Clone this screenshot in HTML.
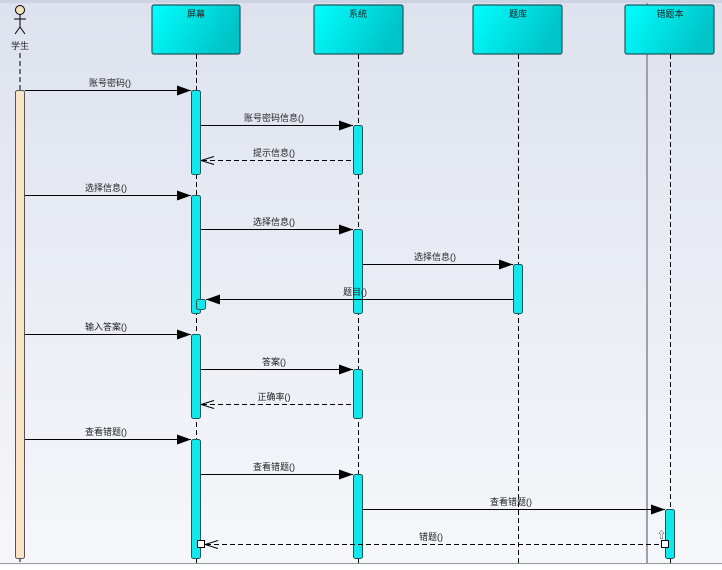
<!DOCTYPE html>
<html><head><meta charset="utf-8">
<style>
html,body{margin:0;padding:0;}
body{width:722px;height:565px;overflow:hidden;}
text{font-family:"Liberation Sans","Noto Sans CJK SC",sans-serif;font-size:9px;fill:#222;}
</style></head>
<body>
<svg width="722" height="565" viewBox="0 0 722 565" xmlns="http://www.w3.org/2000/svg">
<defs>
<linearGradient id="bg" x1="0" y1="0" x2="0" y2="1">
<stop offset="0" stop-color="#dde2ee"/><stop offset="1" stop-color="#f6f7fa"/>
</linearGradient>
<linearGradient id="box" x1="0" y1="0" x2="1" y2="0.3">
<stop offset="0" stop-color="#00ffff"/><stop offset="1" stop-color="#00c4c8"/>
</linearGradient>
<marker id="fa" markerWidth="14" markerHeight="10" refX="14" refY="5" orient="auto" markerUnits="userSpaceOnUse">
<path d="M0,0 L14,5 L0,10 Z" fill="#000"/></marker>
<marker id="oa" markerWidth="14" markerHeight="10" refX="1" refY="5" orient="auto" markerUnits="userSpaceOnUse">
<path d="M0,5 L13,1 M0,5 L13,9" stroke="#000" fill="none" stroke-width="1"/></marker>
</defs>
<rect width="722" height="565" fill="url(#bg)"/>
<rect x="0" y="0" width="722" height="3" fill="#cdd3e2"/>
<line x1="0" y1="563.5" x2="722" y2="563.5" stroke="#999"/>
<line x1="647" y1="3" x2="647" y2="563" stroke="#a0a0a8" stroke-width="2"/>

<circle cx="20" cy="10" r="4.5" fill="#f5dfb8" stroke="#000"/>
<line x1="20" y1="15" x2="20" y2="27" stroke="#000"/>
<line x1="14" y1="19" x2="26" y2="19" stroke="#000"/>
<line x1="20" y1="27" x2="15" y2="34" stroke="#000"/>
<line x1="20" y1="27" x2="25" y2="34" stroke="#000"/>
<text x="20" y="49" text-anchor="middle">学生</text>

<g stroke="#1d5a60" stroke-width="1.2">
<rect x="152" y="5" width="88" height="49" rx="2" fill="url(#box)"/>
<rect x="314" y="5" width="89" height="49" rx="2" fill="url(#box)"/>
<rect x="473" y="5" width="89" height="49" rx="2" fill="url(#box)"/>
<rect x="625" y="5" width="89" height="49" rx="2" fill="url(#box)"/>
</g>
<text x="196" y="17" text-anchor="middle">屏幕</text>
<text x="358" y="17" text-anchor="middle">系统</text>
<text x="518" y="17" text-anchor="middle">题库</text>
<text x="670" y="17" text-anchor="middle">错题本</text>

<g stroke="#000" stroke-dasharray="5,3">
<line x1="20" y1="53" x2="20" y2="565"/>
<line x1="196.5" y1="54" x2="196.5" y2="565"/>
<line x1="358.5" y1="54" x2="358.5" y2="565"/>
<line x1="518.5" y1="54" x2="518.5" y2="565"/>
<line x1="670.5" y1="54" x2="670.5" y2="565"/>
</g>

<rect x="15.5" y="90.5" width="9" height="468" rx="2" fill="#fbe3c6" stroke="#555"/>
<g fill="#10e8ec" stroke="#1d5a60">
<rect x="191.5" y="90.5" width="9" height="84" rx="2"/>
<rect x="191.5" y="195.5" width="9" height="118" rx="2"/>
<rect x="196.5" y="299.5" width="9" height="10" rx="2"/>
<rect x="191.5" y="334.5" width="9" height="84" rx="2"/>
<rect x="191.5" y="439.5" width="9" height="119" rx="2"/>
<rect x="353.5" y="125.5" width="9" height="49" rx="2"/>
<rect x="353.5" y="229.5" width="9" height="84" rx="2"/>
<rect x="353.5" y="369.5" width="9" height="49" rx="2"/>
<rect x="353.5" y="474.5" width="9" height="84" rx="2"/>
<rect x="513.5" y="264.5" width="9" height="49" rx="2"/>
<rect x="665.5" y="509.5" width="9" height="49" rx="2"/>
</g>

<g stroke="#000" stroke-width="1" fill="none">
<line x1="25" y1="90.5" x2="191" y2="90.5" marker-end="url(#fa)"/>
<line x1="201" y1="125.5" x2="353" y2="125.5" marker-end="url(#fa)"/>
<line x1="202" y1="160.5" x2="353" y2="160.5" stroke-dasharray="5,3" marker-start="url(#oa)"/>
<line x1="25" y1="195.5" x2="191" y2="195.5" marker-end="url(#fa)"/>
<line x1="201" y1="229.5" x2="353" y2="229.5" marker-end="url(#fa)"/>
<line x1="363" y1="264.5" x2="513" y2="264.5" marker-end="url(#fa)"/>
<line x1="513" y1="299.5" x2="206" y2="299.5" marker-end="url(#fa)"/>
<line x1="25" y1="334.5" x2="191" y2="334.5" marker-end="url(#fa)"/>
<line x1="201" y1="369.5" x2="353" y2="369.5" marker-end="url(#fa)"/>
<line x1="202" y1="404.5" x2="353" y2="404.5" stroke-dasharray="5,3" marker-start="url(#oa)"/>
<line x1="25" y1="439.5" x2="191" y2="439.5" marker-end="url(#fa)"/>
<line x1="201" y1="474.5" x2="353" y2="474.5" marker-end="url(#fa)"/>
<line x1="363" y1="509.5" x2="665" y2="509.5" marker-end="url(#fa)"/>
<line x1="206" y1="544.5" x2="660" y2="544.5" stroke-dasharray="5,3" marker-start="url(#oa)"/>
</g>
<rect x="197.5" y="540.5" width="7" height="7" fill="#fff" stroke="#000"/>
<rect x="661.5" y="540.5" width="7" height="7" fill="#fff" stroke="#000"/>
<text x="657" y="538" font-size="8">⇧</text>

<text x="110" y="86" text-anchor="middle">账号密码()</text>
<text x="274" y="121" text-anchor="middle">账号密码信息()</text>
<text x="274" y="156" text-anchor="middle">提示信息()</text>
<text x="106" y="191" text-anchor="middle">选择信息()</text>
<text x="274" y="225" text-anchor="middle">选择信息()</text>
<text x="435" y="260" text-anchor="middle">选择信息()</text>
<text x="355" y="295" text-anchor="middle">题目()</text>
<text x="106" y="330" text-anchor="middle">输入答案()</text>
<text x="274" y="365" text-anchor="middle">答案()</text>
<text x="274" y="400" text-anchor="middle">正确率()</text>
<text x="106" y="435" text-anchor="middle">查看错题()</text>
<text x="274" y="470" text-anchor="middle">查看错题()</text>
<text x="511" y="505" text-anchor="middle">查看错题()</text>
<text x="431" y="540" text-anchor="middle">错题()</text>
</svg>
</body></html>
